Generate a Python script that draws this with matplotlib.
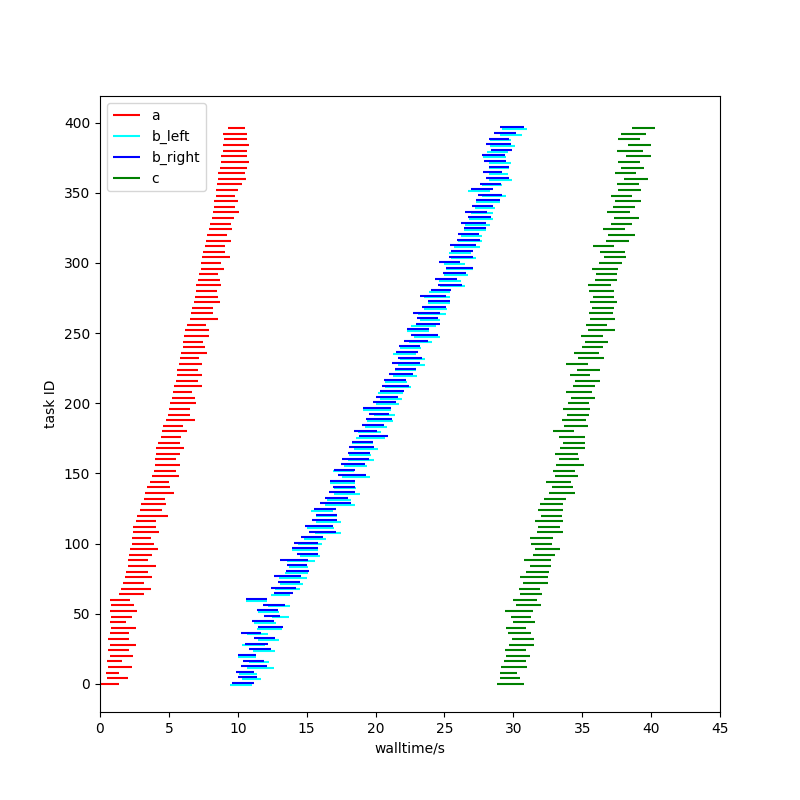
import numpy as np
import matplotlib
matplotlib.use("Agg")
import matplotlib.pyplot as plt

# start times / durations per task (task ids 0, 4, 8, ...)
a_start = [0.0, 0.5, 0.4, 0.6, 0.5, 0.7, 0.6, 0.7, 0.6, 0.7, 0.8, 0.7, 0.8, 0.7, 0.8, 0.7,
           1.4, 1.5, 1.7, 1.8, 1.9, 2.0, 2.0, 2.1, 2.2, 2.3, 2.3, 2.4, 2.4, 2.6, 2.7, 2.9,
           3.0, 3.2, 3.3, 3.4, 3.6, 3.8, 3.9, 4.0, 4.0, 4.1, 4.1, 4.2, 4.4, 4.5, 4.6, 4.8,
           4.9, 5.0, 5.1, 5.2, 5.3, 5.4, 5.5, 5.6, 5.6, 5.7, 5.8, 5.9, 6.0, 6.0, 6.1, 6.2,
           6.3, 6.5, 6.6, 6.7, 6.8, 6.9, 7.0, 7.0, 7.1, 7.2, 7.3, 7.3, 7.4, 7.5, 7.6, 7.7,
           7.8, 7.9, 8.0, 8.1, 8.2, 8.3, 8.3, 8.4, 8.4, 8.5, 8.6, 8.6, 8.7, 8.8, 8.8, 8.9,
           8.9, 9.0, 8.9, 9.3]
a_dur = [1.4, 1.5, 1.0, 1.7, 1.1, 1.7, 1.5, 1.9, 1.5, 1.4, 1.8, 1.2, 1.5, 2.0, 1.7, 1.5,
         1.8, 2.2, 1.5, 2.0, 1.6, 2.1, 1.5, 1.7, 2.0, 1.6, 1.4, 1.9, 1.7, 1.5, 2.2, 1.6,
         1.8, 1.5, 2.1, 1.7, 1.4, 1.9, 1.6, 1.8, 1.5, 1.7, 2.0, 1.6, 1.5, 1.8, 1.4, 2.1,
         1.6, 1.5, 1.9, 1.7, 1.4, 2.0, 1.6, 1.8, 1.5, 1.7, 1.4, 1.9, 1.6, 1.5, 1.8, 1.7,
         1.4, 2.1, 1.6, 1.5, 1.9, 1.7, 1.5, 1.8, 1.6, 1.4, 1.7, 1.5, 2.0, 1.6, 1.5, 1.8,
         1.4, 1.7, 1.5, 1.6, 1.9, 1.5, 1.7, 1.4, 1.6, 1.8, 2.0, 1.9, 2.0, 2.0, 1.9, 1.8,
         1.9, 1.7, 1.8, 1.2]
b_start = [9.6, 10.0, 9.9, 10.2, 10.4, 10.0, 10.8, 10.5, 11.2, 10.2, 11.5, 11.0, 11.9, 11.4, 11.8, 10.6,
           12.6, 12.4, 12.9, 12.6, 13.5, 13.6, 13.1, 14.3, 13.9, 14.1, 14.6, 15.2, 14.9, 15.4, 15.7, 15.5,
           16.0, 16.3, 16.6, 16.9, 16.7, 17.3, 17.0, 17.5, 17.6, 18.0, 18.1, 18.3, 18.8, 18.4, 19.0, 19.3,
           19.5, 19.1, 19.8, 20.0, 20.3, 20.5, 20.6, 21.0, 21.4, 21.2, 21.6, 21.5, 21.7, 22.1, 22.6, 22.3,
           22.9, 23.0, 22.7, 23.4, 23.8, 23.2, 24.0, 24.5, 24.3, 24.9, 25.1, 24.6, 25.3, 25.5, 25.4, 25.9,
           26.0, 26.4, 26.2, 26.7, 26.5, 27.0, 27.3, 27.4, 26.9, 27.6, 28.0, 27.8, 28.2, 27.9, 27.7, 28.4,
           28.0, 28.2, 28.6, 29.0]
b_dur = [1.6, 1.4, 1.3, 1.9, 1.5, 1.3, 1.6, 1.7, 1.5, 1.5, 1.8, 1.6, 1.2, 1.5, 1.6, 1.5,
         1.4, 1.8, 1.6, 2.0, 1.7, 1.4, 2.0, 1.5, 1.9, 1.7, 1.6, 1.9, 2.0, 1.8, 1.5, 1.6,
         2.2, 1.7, 1.9, 1.6, 1.8, 2.0, 1.5, 1.7, 1.9, 1.6, 1.8, 1.5, 2.1, 1.7, 1.6, 1.9,
         1.5, 2.0, 1.7, 1.6, 1.8, 1.9, 1.6, 1.7, 1.5, 2.0, 1.8, 1.6, 1.5, 1.7, 1.9, 1.6,
         1.8, 1.5, 2.0, 1.7, 1.6, 1.9, 1.5, 1.8, 1.6, 1.7, 2.0, 1.5, 1.8, 1.6, 1.9, 1.7,
         1.5, 1.6, 1.8, 1.7, 1.6, 1.5, 1.7, 1.8, 1.6, 1.5, 1.7, 1.4, 1.5, 1.6, 1.7, 1.5,
         1.8, 1.5, 1.6, 1.8]
b_left_shift = [-0.2, 0.3, 0.2, 0.5, 0.4, 0.0, 0.3, -0.2, 0.3, 0.5, -0.1, 0.2, 0.6, 0.1, 0.4, 0.0,
                -0.2, 0.3, 0.2, 0.4, -0.1, 0.1, 0.5, 0.2, 0.0, 0.3, 0.2, 0.4, 0.1, 0.3, 0.0, -0.2,
                0.3, 0.2, 0.4, 0.1, 0.0, 0.3, -0.1, 0.2, 0.4, 0.1, 0.3, 0.0, -0.2, 0.3, 0.2, 0.1,
                0.4, 0.0, 0.2, 0.3, -0.1, 0.2, 0.1, 0.3, 0.0, 0.4, 0.2, -0.2, 0.1, 0.3, 0.2, 0.0,
                -0.3, 0.2, 0.4, 0.1, 0.0, 0.3, -0.1, 0.2, 0.3, 0.1, 0.0, 0.4, 0.2, -0.2, 0.3, 0.1,
                0.2, 0.0, 0.3, 0.1, 0.4, 0.2, 0.0, 0.3, -0.2, 0.1, 0.2, 0.4, 0.0, 0.3, 0.1, -0.3,
                0.3, 0.1, 0.4, 0.2]
c_start = [28.8, 29.0, 29.0, 29.1, 29.3, 29.5, 29.4, 29.7, 29.9, 29.6, 29.5, 30.0, 29.8, 29.4, 30.2, 30.0,
           30.5, 30.4, 30.7, 30.5, 30.9, 31.2, 30.8, 31.4, 31.6, 31.3, 31.2, 31.7, 31.8, 31.6, 32.0, 31.8,
           31.9, 32.2, 32.6, 32.8, 32.4, 33.0, 32.9, 33.1, 33.3, 33.0, 33.4, 33.6, 33.3, 32.9, 33.7, 33.5,
           33.9, 33.6, 34.0, 34.2, 33.8, 34.3, 34.5, 34.1, 34.6, 33.8, 34.7, 34.4, 35.0, 35.2, 34.9, 35.4,
           35.3, 35.6, 35.5, 35.7, 35.6, 35.8, 35.5, 35.4, 35.9, 36.0, 35.7, 36.2, 36.6, 36.3, 35.8, 36.7,
           36.9, 36.5, 37.1, 37.3, 36.8, 37.2, 37.4, 37.1, 37.6, 37.5, 38.0, 37.4, 37.8, 37.6, 38.2, 37.5,
           38.3, 37.6, 37.8, 38.6]
c_dur = [2.0, 1.5, 1.3, 1.9, 1.6, 1.7, 1.5, 1.8, 1.6, 1.7, 1.4, 1.6, 1.5, 2.0, 1.8, 1.7,
         1.6, 1.5, 1.8, 2.0, 1.7, 1.5, 1.9, 1.6, 1.8, 1.5, 1.7, 1.9, 1.6, 2.0, 1.5, 1.8,
         1.7, 1.6, 1.9, 1.5, 1.8, 1.7, 1.6, 2.0, 1.5, 1.7, 1.8, 1.6, 1.9, 1.5, 1.7, 1.8,
         1.6, 2.0, 1.5, 1.7, 1.9, 1.6, 1.8, 1.5, 1.7, 1.6, 1.9, 1.8, 1.5, 1.7, 1.6, 2.0,
         1.5, 1.8, 1.7, 1.6, 1.9, 1.5, 1.8, 1.7, 1.6, 1.5, 1.9, 1.7, 1.6, 1.8, 1.5, 1.7,
         1.9, 1.6, 1.5, 1.8, 1.7, 1.6, 1.9, 1.5, 1.7, 1.6, 1.8, 1.5, 1.7, 1.6, 1.8, 1.9,
         1.7, 1.6, 1.8, 1.7]


def ids_for(vals):
    return np.arange(len(vals)) * 4


fig, ax = plt.subplots(figsize=(8, 8), dpi=100)

ya = ids_for(a_start)
ax.hlines(ya, a_start, np.array(a_start) + np.array(a_dur), color="red", lw=1.5, label="a")

yb = ids_for(b_start)
bl_start = np.array(b_start) + np.array(b_left_shift)
ax.hlines(yb - 0.6, bl_start, bl_start + np.array(b_dur), color="cyan", lw=1.5, label="b_left")
ax.hlines(yb + 0.6, b_start, np.array(b_start) + np.array(b_dur), color="blue", lw=1.5, label="b_right")

yc = ids_for(c_start)
ax.hlines(yc, c_start, np.array(c_start) + np.array(c_dur), color="green", lw=1.5, label="c")

ax.set_xlim(0, 45)
ax.set_ylim(-20, 419)
ax.set_xlabel("walltime/s")
ax.set_ylabel("task ID")
ax.legend(loc="upper left")

plt.savefig("out.png")
